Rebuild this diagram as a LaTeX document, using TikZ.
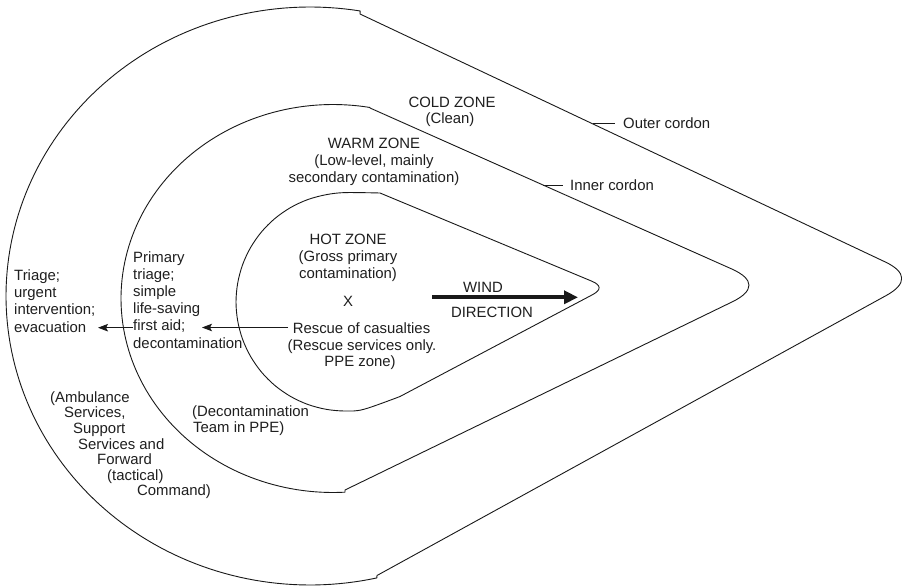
\documentclass[tikz,border=0pt]{standalone}
\usepackage{fontspec}
\setmainfont{Liberation Sans}
\usetikzlibrary{calc,arrows.meta}
\begin{document}
\begin{tikzpicture}[x=1pt,y=-1pt,
  lbl/.style={font=\fontsize{14.9}{17}\selectfont, inner sep=0pt, text=black!88},
  zone/.style={line width=0.9pt, line join=round, black!90},
  tickline/.style={line width=0.8pt, black!90},
  thinarrow/.style={line width=0.8pt, black!90, -{Stealth[length=10pt,width=7.5pt,inset=2pt]}},
  windarrow/.style={line width=4pt, black!90, -{Triangle[length=14pt,width=13pt]}}]
\useasboundingbox (0,0) rectangle (902,586);
\fill[white] (0,0) rectangle (902,586);

% outer cordon
\coordinate (oT) at (360,14);
\coordinate (oV) at (918.6,277.7);
\coordinate (oB) at (377,575.5);
\draw[zone] (oT) -- ($(oV)!37pt!(oT)$) .. controls ($(oV)!13pt!(oT)$) and ($(oV)!13pt!(oB)$) .. ($(oV)!37pt!(oB)$) -- (oB)
  -- plot[domain=282.7:80.5, samples=140] ({310+304*cos(\x)},{296-289*sin(\x)}) -- cycle;

% inner cordon
\coordinate (mT) at (370,108);
\coordinate (mV) at (767.3,284.8);
\coordinate (mB) at (345,490);
\draw[zone] (mT) -- ($(mV)!39pt!(mT)$) .. controls ($(mV)!14pt!(mT)$) and ($(mV)!14pt!(mB)$) .. ($(mV)!39pt!(mB)$) -- (mB)
  -- plot[domain=273.25:79.95, samples=120] ({333+212*cos(\x)},{298.5-194*sin(\x)}) -- cycle;

% hot zone
\coordinate (hT) at (380,193);
\coordinate (hV) at (606.5,287.3);
\coordinate (hB) at (400,396.5);
\draw[zone] (hT) -- ($(hV)!16pt!(hT)$) .. controls ($(hV)!5.6pt!(hT)$) and ($(hV)!5.6pt!(hB)$) .. ($(hV)!16pt!(hB)$) -- (hB)
  -- plot[smooth, tension=0.55] coordinates {(400,396.5) (363.9,409.3) (345,411) (326.1,409.3) (307.7,404.4) (290.5,396.4) (274.9,385.5) (261.5,372.1) (250.6,356.5) (242.6,339.3) (237.7,320.9) (236,302) (237.7,283.1) (242.6,264.7) (250.6,247.5) (261.5,231.9) (274.9,218.5) (290.5,207.6) (307.7,199.6) (326.1,194.7) (345,192.6) (380,193)} -- cycle;

% labels
\node[lbl, anchor=base] (cold) at (452,107) {COLD ZONE};
\node[lbl, anchor=base] (clean) at (450,123) {(Clean)};
\node[lbl, anchor=base west] (outer) at (623,128) {Outer cordon};
\node[lbl, anchor=base west] (inner) at (570,190.5) {Inner cordon};
\coordinate (oc) at (593,123);
\coordinate (ic) at (543,185);
\draw[tickline, shorten >=8pt] (oc) -- (oc -| outer.west);
\draw[tickline, shorten >=7pt] (ic) -- (ic -| inner.west);

\node[lbl, anchor=base] (warm1) at (374,148) {WARM ZONE};
\node[lbl, anchor=base] (warm2) at (374,165.2) {(Low-level, mainly};
\node[lbl, anchor=base] (warm3) at (374,182.4) {secondary contamination)};

\node[lbl, anchor=base] (hot1) at (348,244) {HOT ZONE};
\node[lbl, anchor=base] (hot2) at (348,261) {(Gross primary};
\node[lbl, anchor=base] (hot3) at (348,278) {contamination)};
\node[lbl, anchor=base] (xmark) at (348,306) {X};
\node[lbl, anchor=base] (resc1) at (361.5,333) {Rescue of casualties};
\node[lbl, anchor=base] (resc2) at (362,350) {(Rescue services only.};
\node[lbl, anchor=base] (resc3) at (360,366.5) {PPE zone)};

\node[lbl, anchor=base west] (p1) at (133,262) {Primary};
\node[lbl, anchor=base west] (p2) at (133,279.2) {triage;};
\node[lbl, anchor=base west] (p3) at (133,296.4) {simple};
\node[lbl, anchor=base west] (p4) at (133,313.6) {life-saving};
\node[lbl, anchor=base west] (p5) at (133,330.8) {first aid;};
\node[lbl, anchor=base west] (p6) at (133,348) {decontamination};

\node[lbl, anchor=base west] (t1) at (14,280) {Triage;};
\node[lbl, anchor=base west] (t2) at (14,297.3) {urgent};
\node[lbl, anchor=base west] (t3) at (14,314.6) {intervention;};
\node[lbl, anchor=base west] (t4) at (14,332) {evacuation};

\node[lbl, anchor=base west] (d1) at (192,416.5) {(Decontamination};
\node[lbl, anchor=base west] (d2) at (193,432.5) {Team in PPE)};

\node[lbl, anchor=base west] (a1) at (50,402) {(Ambulance};
\node[lbl, anchor=base west] (a2) at (64,417.5) {Services,};
\node[lbl, anchor=base west] (a3) at (73,433.5) {Support};
\node[lbl, anchor=base west] (a4) at (78,449) {Services and};
\node[lbl, anchor=base west] (a5) at (97,464.5) {Forward};
\node[lbl, anchor=base west] (a6) at (107,480) {(tactical)};
\node[lbl, anchor=base west] (a7) at (137,495.5) {Command)};

\node[lbl, anchor=base] (wind) at (483,292) {WIND};
\node[lbl, anchor=base] (dir) at (492,317) {DIRECTION};

% arrows
\coordinate (r1s) at (288,327.5);
\coordinate (r1e) at (202,327.5);
\coordinate (r2s) at (133,327.7);
\coordinate (r2e) at (98,327.7);
\draw[thinarrow] (r1s) -- (r1e);
\draw[thinarrow] (r2s) -- (r2e);
\coordinate (ws) at (432,297.3);
\coordinate (we) at (578,297.3);
\draw[windarrow] (ws) -- (we);
\end{tikzpicture}
\end{document}
